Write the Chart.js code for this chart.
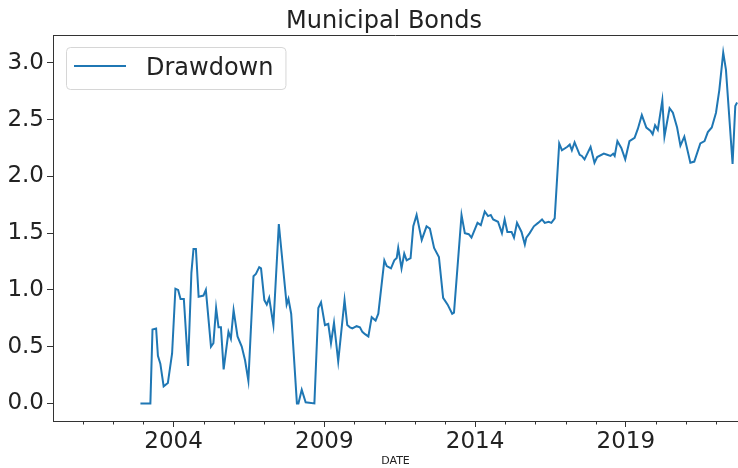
<!DOCTYPE html>
<html>
<head>
<meta charset="utf-8">
<title>Municipal Bonds</title>
<script src="https://cdn.jsdelivr.net/npm/chart.js@4/dist/chart.umd.min.js"></script>
<style>
  html, body { margin: 0; padding: 0; background: #fff; }
  #chart { display: block; }
</style>
</head>
<body>
<canvas id="chart" width="738" height="468"></canvas>
<script>
// drawdown series, x = decimal year
const dates = [
  2002.90, 2003.23, 2003.30, 2003.42, 2003.48, 2003.56, 2003.67, 2003.81, 2003.95,
  2004.06, 2004.15, 2004.23, 2004.34, 2004.48, 2004.59, 2004.66, 2004.74, 2004.83, 2004.99,
  2005.07, 2005.24, 2005.32, 2005.41, 2005.49, 2005.57, 2005.66, 2005.82, 2005.90, 2005.99,
  2006.12, 2006.26, 2006.37, 2006.48, 2006.65, 2006.73, 2006.84, 2006.90,
  2007.01, 2007.09, 2007.17, 2007.31, 2007.49, 2007.75, 2007.81, 2007.90,
  2008.09, 2008.14, 2008.25, 2008.38, 2008.67, 2008.80, 2008.89,
  2009.02, 2009.13, 2009.22, 2009.32, 2009.46, 2009.67, 2009.76, 2009.85, 2009.93,
  2010.07, 2010.18, 2010.26, 2010.35, 2010.46, 2010.57, 2010.70, 2010.79, 2010.99,
  2011.07, 2011.21, 2011.32, 2011.40, 2011.45, 2011.56, 2011.65, 2011.73, 2011.86, 2011.95,
  2012.06, 2012.23, 2012.39, 2012.50, 2012.64, 2012.80, 2012.94,
  2013.09, 2013.24, 2013.30, 2013.55, 2013.66, 2013.79, 2013.88,
  2014.08, 2014.19, 2014.32, 2014.43, 2014.52, 2014.60, 2014.76, 2014.89, 2014.98,
  2015.07, 2015.21, 2015.29, 2015.39, 2015.54, 2015.65, 2015.70, 2015.81, 2015.95,
  2016.09, 2016.22, 2016.31, 2016.44, 2016.53, 2016.64, 2016.79, 2016.88,
  2017.06, 2017.14, 2017.21, 2017.30, 2017.47, 2017.54, 2017.63, 2017.83, 2017.96,
  2018.05, 2018.27, 2018.38, 2018.49, 2018.58, 2018.63, 2018.72, 2018.85, 2018.98,
  2019.12, 2019.29, 2019.40, 2019.53, 2019.68, 2019.82, 2019.89, 2019.97,
  2020.06, 2020.21, 2020.28, 2020.45, 2020.56, 2020.70, 2020.81, 2020.94,
  2021.14, 2021.27, 2021.47, 2021.61, 2021.72, 2021.85, 2021.99,
  2022.10, 2022.23, 2022.32, 2022.54, 2022.63, 2022.69
];
const drawdown = [
  0.00, 0.00, 0.65, 0.66, 0.42, 0.35, 0.15, 0.18, 0.44,
  1.01, 1.00, 0.92, 0.92, 0.33, 1.15, 1.36, 1.36, 0.94, 0.95,
  1.00, 0.50, 0.53, 0.84, 0.67, 0.67, 0.30, 0.63, 0.57, 0.82,
  0.59, 0.50, 0.38, 0.20, 1.12, 1.14, 1.20, 1.19,
  0.91, 0.87, 0.93, 0.69, 1.58, 0.87, 0.92, 0.79,
  0.00, 0.00, 0.12, 0.01, 0.00, 0.84, 0.89,
  0.69, 0.70, 0.53, 0.71, 0.37, 0.91, 0.69, 0.67, 0.66,
  0.68, 0.67, 0.63, 0.61, 0.59, 0.76, 0.73, 0.79, 1.26,
  1.21, 1.19, 1.26, 1.28, 1.37, 1.19, 1.32, 1.26, 1.28, 1.56,
  1.66, 1.44, 1.56, 1.54, 1.37, 1.29, 0.93,
  0.87, 0.79, 0.80, 1.66, 1.50, 1.49, 1.46,
  1.59, 1.57, 1.69, 1.65, 1.66, 1.62, 1.60, 1.50, 1.62,
  1.51, 1.51, 1.46, 1.59, 1.51, 1.40, 1.46, 1.50, 1.56,
  1.59, 1.62, 1.59, 1.60, 1.59, 1.63, 2.29, 2.23,
  2.26, 2.28, 2.23, 2.30, 2.19, 2.18, 2.15, 2.26, 2.12,
  2.17, 2.20, 2.19, 2.18, 2.20, 2.18, 2.31, 2.25, 2.15,
  2.31, 2.34, 2.42, 2.54, 2.43, 2.40, 2.37, 2.45,
  2.41, 2.67, 2.35, 2.60, 2.56, 2.43, 2.27, 2.35,
  2.12, 2.13, 2.29, 2.31, 2.39, 2.43, 2.56,
  2.76, 3.09, 2.94, 2.11, 2.62, 2.65
];
const xLabelYears = [2004, 2009, 2014, 2019];
const xMinorYears = [2001, 2002, 2003, 2005, 2006, 2007, 2008, 2010, 2011, 2012, 2013,
                     2015, 2016, 2017, 2018, 2020, 2021, 2022];
const yTicks = [0.0, 0.5, 1.0, 1.5, 2.0, 2.5, 3.0];

const FONT = "'DejaVu Sans', sans-serif";
const INK = '#222';
const SPINE = '#333';
const LINE = '#1f77b4';

// top spine, short yearly ticks, title and boxed legend
const framePlugin = {
  id: 'frame',
  afterDraw(chart) {
    const ctx = chart.ctx;
    const a = chart.chartArea;
    const xs = chart.scales.x;
    ctx.save();
    ctx.strokeStyle = SPINE;
    ctx.lineWidth = 1;
    ctx.beginPath();
    ctx.moveTo(a.left, a.top + 0.5);
    ctx.lineTo(a.right, a.top + 0.5);
    for (const yr of xMinorYears) {
      const px = Math.round(xs.getPixelForValue(yr)) + 0.5;
      ctx.moveTo(px, a.bottom);
      ctx.lineTo(px, a.bottom + 3.5);
    }
    ctx.stroke();

    ctx.fillStyle = INK;
    ctx.font = '24px ' + FONT;
    ctx.textAlign = 'center';
    ctx.textBaseline = 'alphabetic';
    ctx.fillText('Municipal Bonds', chart.width / 2 + 15, 28);

    const label = chart.data.datasets[0].label;
    ctx.font = '24px ' + FONT;
    const tw = ctx.measureText(label).width;
    const bx = a.left + 13, by = a.top + 12;
    const bw = 8 + 52 + 20 + tw + 12, bh = 42;
    ctx.beginPath();
    ctx.roundRect(bx + 0.5, by + 0.5, bw, bh, 4);
    ctx.fillStyle = 'rgba(255,255,255,0.8)';
    ctx.fill();
    ctx.strokeStyle = '#d6d6d6';
    ctx.stroke();
    ctx.strokeStyle = LINE;
    ctx.lineWidth = 2;
    ctx.beginPath();
    ctx.moveTo(bx + 8, by + 19);
    ctx.lineTo(bx + 60, by + 19);
    ctx.stroke();
    ctx.fillStyle = INK;
    ctx.textAlign = 'left';
    ctx.fillText(label, bx + 80, by + 28);
    ctx.restore();
  }
};

new Chart(document.getElementById('chart').getContext('2d'), {
  type: 'line',
  data: {
    datasets: [{
      label: 'Drawdown',
      data: dates.map((d, i) => ({ x: d, y: drawdown[i] })),
      borderColor: LINE,
      borderWidth: 2,
      pointRadius: 0,
      tension: 0,
      fill: false
    }]
  },
  options: {
    responsive: false,
    animation: false,
    devicePixelRatio: 1,
    layout: { padding: { top: 35, right: 0, left: 0, bottom: 0 } },
    plugins: {
      legend: { display: false },
      title: { display: false },
      tooltip: { enabled: false }
    },
    scales: {
      x: {
        type: 'linear',
        min: 2000,
        max: 2022.72,
        afterFit(s) { s.height = 47; },
        afterBuildTicks(s) { s.ticks = xLabelYears.map(v => ({ value: v })); },
        ticks: {
          callback: v => String(v),
          color: INK,
          font: { family: FONT, size: 23 },
          padding: 1,
          maxRotation: 0
        },
        grid: { display: true, drawOnChartArea: false, tickLength: 6, tickColor: SPINE, tickWidth: 1 },
        border: { color: SPINE, width: 1 },
        title: {
          display: true,
          text: 'DATE',
          color: INK,
          font: { family: FONT, size: 11 },
          padding: { top: 0, bottom: 0 }
        }
      },
      y: {
        min: -0.155,
        max: 3.245,
        afterFit(s) { s.width = 53; },
        afterBuildTicks(s) { s.ticks = yTicks.map(v => ({ value: v })); },
        ticks: {
          callback: v => v.toFixed(1),
          color: INK,
          font: { family: FONT, size: 23 },
          padding: 3
        },
        grid: { display: true, drawOnChartArea: false, tickLength: 6, tickColor: SPINE, tickWidth: 1 },
        border: { color: SPINE, width: 1 }
      }
    }
  },
  plugins: [framePlugin]
});
</script>
</body>
</html>
